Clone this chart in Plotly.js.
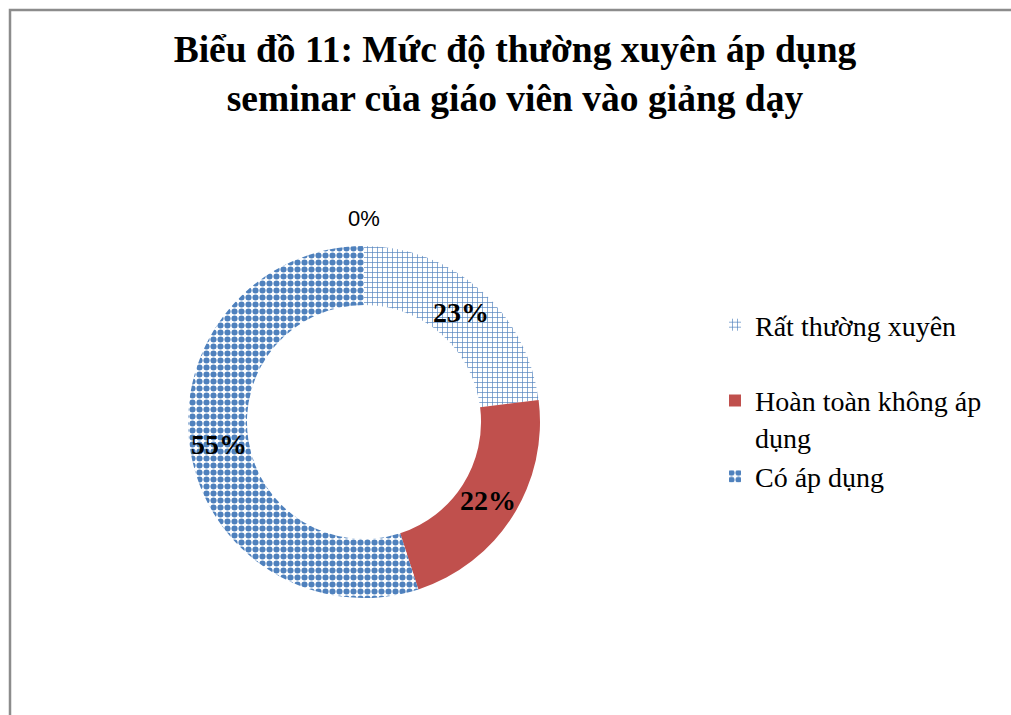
<!DOCTYPE html>
<html>
<head>
<meta charset="utf-8">
<script src="https://cdn.plot.ly/plotly-3.0.1.min.js"></script>
<style>
  html, body { margin: 0; padding: 0; background: #ffffff; }
  #chart { width: 1011px; height: 715px; }
</style>
</head>
<body>
<div id="chart"></div>
<script>
// Mức độ áp dụng seminar (phần trăm giáo viên)
const categories = ["Rất thường xuyên<br> ", "Hoàn toàn không áp<br>dụng", "Có áp dụng"];
const shares = [23, 22, 55];
const sliceColors = ["#4F81BD", "#C0504D", "#4F81BD"];
const slicePatterns = ["+", "", "."];
// nhóm không có câu trả lời, chỉ hiện nhãn ở đỉnh vòng
const emptyShare = 0;

const W = 1011, H = 715;
const cx = 364, cy = 422, R = 176;
const HOLE = 0.665;

const serif = "Liberation Serif, Times New Roman, serif";

const trace = {
  type: "pie",
  labels: categories,
  values: shares,
  sort: false,
  direction: "clockwise",
  rotation: 0,
  hole: HOLE,
  domain: {
    x: [(cx - R) / W, (cx + R) / W],
    y: [1 - (cy + R) / H, 1 - (cy - R) / H]
  },
  marker: {
    colors: sliceColors,
    line: { width: 0 },
    pattern: {
      shape: slicePatterns,
      fillmode: "replace",
      size: [5, 8, 7],
      solidity: [0.25, 0.3, 0.6]
    }
  },
  textinfo: "none",
  hoverinfo: "label+percent"
};

// nhãn phần trăm đặt giữa mỗi lát, theo góc giữa và bán kính giữa vòng
const total = shares.reduce((a, b) => a + b, 0);
const midR = R * (1 + HOLE) / 2;
let cum = 0;
const valueLabels = shares.map(v => {
  const mid = (cum + v / 2) / total * 2 * Math.PI;
  cum += v;
  const px = cx + midR * Math.sin(mid);
  const py = cy - midR * Math.cos(mid);
  return {
    text: v + "%",
    xref: "paper",
    yref: "paper",
    x: px / W,
    y: 1 - py / H,
    xanchor: "center",
    yanchor: "middle",
    showarrow: false,
    font: { family: serif, size: 28, color: "#000000", weight: "bold" }
  };
});

const layout = {
  width: W,
  height: H,
  margin: { l: 0, r: 0, t: 0, b: 0 },
  paper_bgcolor: "#ffffff",
  plot_bgcolor: "#ffffff",
  title: {
    text: "Biểu đồ 11: Mức độ thường xuyên áp dụng<br>seminar của giáo viên vào giảng dạy",
    font: { family: serif, size: 37.5, color: "#000000", weight: "bold" },
    x: 515 / W,
    xanchor: "center",
    y: 1 - 62 / H,
    yanchor: "top",
    xref: "paper",
    yref: "paper"
  },
  showlegend: true,
  legend: {
    x: 715 / W,
    xanchor: "left",
    y: 1 - 300 / H,
    yanchor: "top",
    valign: "top",
    font: { family: serif, size: 28, color: "#000000" },
    bgcolor: "rgba(0,0,0,0)"
  },
  annotations: valueLabels.concat([{
    text: emptyShare + "%",
    xref: "paper",
    yref: "paper",
    x: cx / W,
    y: 1 - 218 / H,
    xanchor: "center",
    yanchor: "middle",
    showarrow: false,
    font: { family: "Liberation Sans, Arial, sans-serif", size: 22, color: "#000000" }
  }]),
  shapes: [{
    type: "rect",
    xref: "paper",
    yref: "paper",
    x0: 10 / W,
    x1: 1.02,
    y0: -0.02,
    y1: 1 - 10 / H,
    line: { color: "#8c8c8c", width: 2.5 },
    fillcolor: "rgba(0,0,0,0)"
  }]
};

Plotly.newPlot("chart", [trace], layout, { displayModeBar: false, staticPlot: true });
</script>
</body>
</html>
